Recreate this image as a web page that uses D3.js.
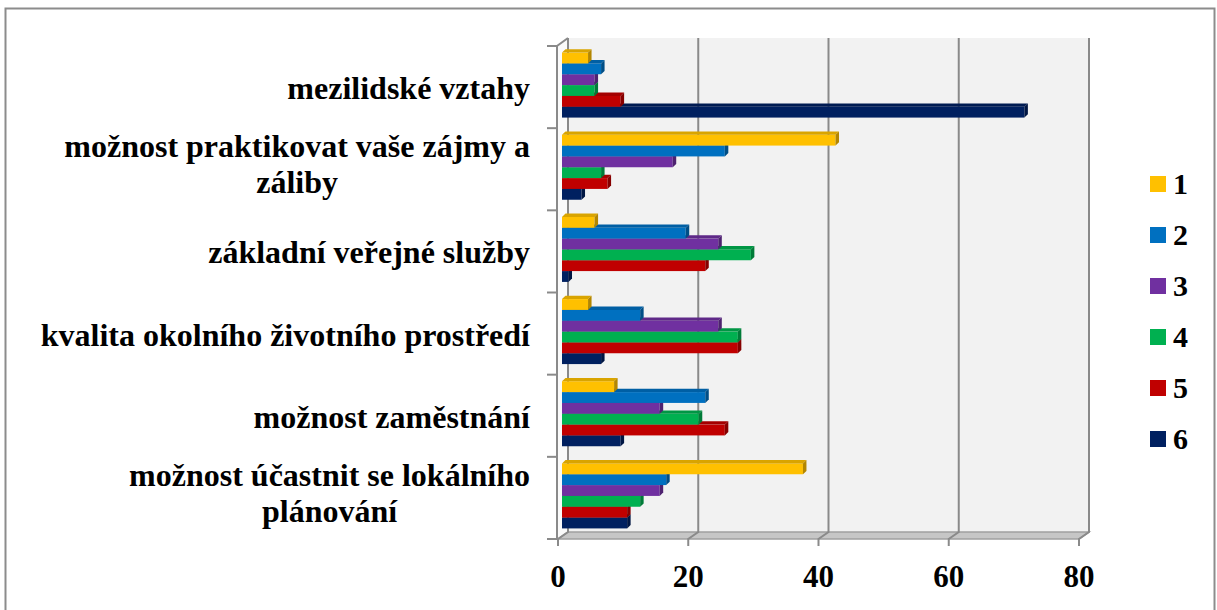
<!DOCTYPE html>
<html>
<head>
<meta charset="utf-8">
<script src="https://cdn.jsdelivr.net/npm/d3@7"></script>
<style>
  body { margin: 0; background: #fff; }
</style>
</head>
<body>
<div id="chart"></div>
<script>
// categories top to bottom
const categories = [
  'mezilidské vztahy',
  'možnost praktikovat vaše zájmy a záliby',
  'základní veřejné služby',
  'kvalita okolního životního prostředí',
  'možnost zaměstnání',
  'možnost účastnit se lokálního plánování'
]
const seriesNames = ['1', '2', '3', '4', '5', '6']
const seriesColors = ['#ffc000', '#0070c0', '#7030a0', '#00b050', '#c00000', '#002060']
const s1 = [4, 42, 5, 4, 8, 37]
const s2 = [6, 25, 19, 12, 22, 16]
const s3 = [5, 17, 24, 24, 15, 15]
const s4 = [5, 6, 29, 27, 21, 12]
const s5 = [9, 7, 22, 27, 25, 10]
const s6 = [71, 3, 1, 6, 9, 10]
const xTicks = [0, 20, 40, 60, 80]

const series = [s1, s2, s3, s4, s5, s6]

const width = 1217
const height = 610
const fontFamily = "'Liberation Serif', 'Times New Roman', Times, 'DejaVu Serif', serif"

// 3d depth offset of the back wall
const depthX = 10
const depthY = -7

const svg = d3
  .select('#chart')
  .append('svg')
  .attr('width', width)
  .attr('height', height)
  .attr('font-family', fontFamily)
  .attr('font-weight', 'bold')

// outer border
svg
  .append('rect')
  .attr('x', 5.5)
  .attr('y', 8.5)
  .attr('width', 1209)
  .attr('height', 620)
  .attr('fill', 'none')
  .attr('stroke', '#8c8c8c')
  .attr('stroke-width', 2)

const x = d3.scaleLinear().domain([0, 80]).range([558, 1079])
const y = d3.scaleBand().domain(categories).range([46, 539])
const yInner = d3.scaleBand().domain(seriesNames).range([0, 65])

const plotTop = y.range()[0]
const plotBottom = y.range()[1]

// back wall
svg
  .append('rect')
  .attr('x', x(0) + depthX)
  .attr('y', plotTop + depthY - 1)
  .attr('width', x(80) - x(0))
  .attr('height', plotBottom - plotTop + 1)
  .attr('fill', '#f2f2f2')

// side wall
svg
  .append('polygon')
  .attr('points', [
    [x(0), plotTop], [x(0) + depthX, plotTop + depthY],
    [x(0) + depthX, plotBottom + depthY], [x(0), plotBottom]
  ].join(' '))
  .attr('fill', '#fafafa')

// floor
svg
  .append('polygon')
  .attr('points', [
    [x(0), plotBottom], [x(80), plotBottom],
    [x(80) + depthX, plotBottom + depthY], [x(0) + depthX, plotBottom + depthY]
  ].join(' '))
  .attr('fill', '#c6c6c6')
  .attr('stroke', '#a0a0a0')
  .attr('stroke-width', 1.5)

// gridlines on back wall and floor
svg
  .selectAll('.grid')
  .data(xTicks)
  .enter()
  .append('polyline')
  .attr('class', 'grid')
  .attr('points', d => [
    [x(d) + depthX, plotTop + depthY - 1],
    [x(d) + depthX, plotBottom + depthY],
    [x(d), plotBottom],
    [x(d), plotBottom + 7]
  ].join(' '))
  .attr('fill', 'none')
  .attr('stroke', '#8a8a8a')
  .attr('stroke-width', 2)

// front value axis line (left)
svg
  .append('polyline')
  .attr('points', [
    [x(0) + depthX, plotTop + depthY - 1], [x(0) - 1, plotTop], [x(0) - 1, plotBottom]
  ].join(' '))
  .attr('fill', 'none')
  .attr('stroke', '#8a8a8a')
  .attr('stroke-width', 2)

// category ticks
const catTicks = categories.map(c => y(c)).concat([plotBottom])
svg
  .selectAll('.cat-tick')
  .data(catTicks)
  .enter()
  .append('line')
  .attr('class', 'cat-tick')
  .attr('x1', x(0) - 11)
  .attr('x2', x(0) - 1)
  .attr('y1', d => d)
  .attr('y2', d => d)
  .attr('stroke', '#8a8a8a')
  .attr('stroke-width', 2)

// bars
const barDx = 4
const barDepthX = 3.5
const barDepthY = -3.3
const bh = yInner.bandwidth()

const bars = []
categories.forEach((c, ci) => {
  series.forEach((s, si) => {
    bars.push({ cat: c, name: seriesNames[si], value: s[ci], color: seriesColors[si] })
  })
})
// draw lower bars first so upper bars cover their top faces
bars.reverse()

const barG = svg
  .selectAll('.bar')
  .data(bars)
  .enter()
  .append('g')
  .attr('class', 'bar')

function barTop(d) {
  return y(d.cat) + (y.bandwidth() - 65) / 2 - 2 + yInner(d.name)
}

barG
  .append('rect')
  .attr('x', x(0) + barDx)
  .attr('y', d => barTop(d))
  .attr('width', d => x(d.value) - x(0))
  .attr('height', bh)
  .attr('fill', d => d.color)

barG
  .append('polygon')
  .attr('points', d => {
    const x0 = x(0) + barDx
    const x1 = x0 + x(d.value) - x(0)
    const t = barTop(d)
    return [[x0, t], [x1, t], [x1 + barDepthX, t + barDepthY], [x0 + barDepthX, t + barDepthY]].join(' ')
  })
  .attr('fill', d => d3.color(d.color).darker(0.45))

barG
  .append('polygon')
  .attr('points', d => {
    const x1 = x(d.value) + barDx
    const t = barTop(d)
    return [[x1, t], [x1 + barDepthX, t + barDepthY], [x1 + barDepthX, t + bh + barDepthY], [x1, t + bh]].join(' ')
  })
  .attr('fill', d => d3.color(d.color).darker(1))

// x tick labels
svg
  .selectAll('.x-label')
  .data(xTicks)
  .enter()
  .append('text')
  .attr('class', 'x-label')
  .attr('x', d => x(d))
  .attr('y', 587)
  .attr('text-anchor', 'middle')
  .attr('font-size', 31)
  .text(d => d)

// category labels, wrapped, lines centred, block right aligned
const labelRight = 530
const wrapWidth = 500
categories.forEach(c => {
  const t = svg
    .append('text')
    .attr('font-size', 32)
    .attr('text-anchor', 'middle')
  const words = c.split(' ')
  const lines = []
  let line = []
  const probe = t.append('tspan')
  words.forEach(w => {
    const test = line.concat([w]).join(' ')
    probe.text(test)
    if (probe.node().getComputedTextLength() > wrapWidth && line.length) {
      lines.push(line.join(' '))
      line = [w]
    } else {
      line.push(w)
    }
  })
  lines.push(line.join(' '))
  let maxW = 0
  lines.forEach(l => {
    probe.text(l)
    maxW = Math.max(maxW, probe.node().getComputedTextLength())
  })
  probe.remove()
  const center = y(c) + y.bandwidth() / 2
  const lineH = 36
  const firstBase = lines.length > 1 ? center - 12 : center + 12
  lines.forEach((l, i) => {
    t.append('tspan')
      .attr('x', labelRight - maxW / 2)
      .attr('y', firstBase + i * lineH)
      .text(l)
  })
})

// legend
const legend = svg
  .selectAll('.legend')
  .data(seriesNames)
  .enter()
  .append('g')
  .attr('class', 'legend')
  .attr('transform', (d, i) => `translate(1150, ${184 + i * 51})`)

legend
  .append('rect')
  .attr('x', 0)
  .attr('y', -8)
  .attr('width', 16)
  .attr('height', 16)
  .attr('fill', (d, i) => seriesColors[i])

legend
  .append('text')
  .attr('x', 23)
  .attr('y', 10)
  .attr('font-size', 30)
  .text(d => d)
</script>
</body>
</html>
